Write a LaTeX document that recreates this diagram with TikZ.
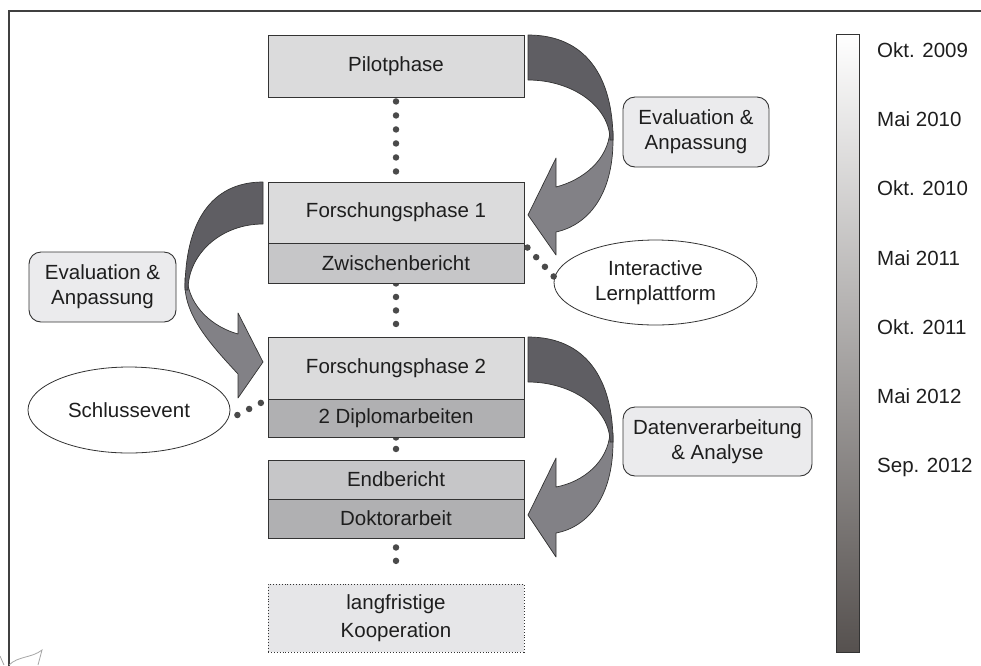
\documentclass[tikz,border=0pt]{standalone}
\usepackage{fontspec}
\setmainfont{Liberation Sans}
\usetikzlibrary{shapes.geometric,backgrounds}
\definecolor{txt}{HTML}{1E1E1E}
\definecolor{cA}{HTML}{DBDBDC}
\definecolor{cB}{HTML}{C6C6C8}
\definecolor{cC}{HTML}{B0B0B2}
\definecolor{cD}{HTML}{E6E6E8}
\definecolor{rfill}{HTML}{EBEBED}
\definecolor{adark}{HTML}{5F5E63}
\definecolor{alight}{HTML}{828186}
\definecolor{barmid}{HTML}{B3B0AD}
\definecolor{barbot}{HTML}{56514F}
\definecolor{dotc}{HTML}{4A4A4A}
\definecolor{edge}{HTML}{333333}
\begin{document}
\begin{tikzpicture}[x=1pt,y=-1pt,
  every node/.style={font=\fontsize{20.5}{25}\selectfont, text=txt},
  box/.style={draw=edge, line width=0.9pt, minimum width=256pt, inner sep=0pt},
  rbox/.style={draw=edge, line width=0.9pt, fill=rfill, rounded corners=12pt, align=center, inner sep=0pt},
  ell/.style={ellipse, draw=edge, line width=0.8pt, fill=white, inner sep=0pt, align=center},
  dotline/.style={draw=dotc, line width=6.5pt, line cap=round, dash pattern=on 0pt off #1},
  dotline/.default=14pt,
  arrdark/.style={fill=adark, draw=edge, line width=0.7pt, line join=round},
  arrlight/.style={fill=alight, draw=edge, line width=0.7pt, line join=round},
  tlabel/.style={anchor=base west, inner sep=0pt}
]
\useasboundingbox (0,0) rectangle (981,665);
% outer frame
\draw[line width=1.1pt, black!75] (9,680) -- (9,11) -- (1000,11);
% small scribble bottom-left
\draw[black!35, line width=0.8pt] (9,665) .. controls (18,656) and (32,658) .. (42,650) -- (38,665);
\draw[black!35, line width=0.8pt] (0,656) -- (4,665);

% main boxes
\node[box, fill=cA, minimum height=62pt] (pilot) at (396,66) {Pilotphase};
\node[box, fill=cA, minimum height=61pt] (fp1) at (396,212.5) {Forschungsphase 1};
\node[box, fill=cB, minimum height=40pt] (zw) at (396,263) {Zwischenbericht};
\node[box, fill=cA, minimum height=62pt] (fp2) at (396,368) {Forschungsphase 2};
\node[box, fill=cC, minimum height=38pt] (dip) at (396,418) {2 Diplomarbeiten};
\node[box, fill=cB, minimum height=39pt] (endb) at (396,479.5) {Endbericht};
\node[box, fill=cC, minimum height=39pt] (dok) at (396,518.5) {Doktorarbeit};
\node[box, fill=cD, dotted, minimum height=68pt, align=center,
      font=\fontsize{20.5}{28}\selectfont] (lang) at (396,618) {langfristige\\Kooperation};

% rounded boxes
\node[rbox, minimum width=146pt, minimum height=70pt] (ea1) at (696,132) {Evaluation \&\\Anpassung};
\node[rbox, minimum width=147pt, minimum height=70pt] (ea2) at (102.5,287) {Evaluation \&\\Anpassung};
\node[rbox, minimum width=189pt, minimum height=69pt] (dva) at (717.5,441.5) {Datenverarbeitung\\\& Analyse};

% ellipses
\node[ell, minimum width=203pt, minimum height=85pt] (ilp) at (655.5,282.5) {Interactive\\Lernplattform};
\node[ell, minimum width=202pt, minimum height=86pt] (se) at (129,410) {Schlussevent};

% vertical dotted connectors behind boxes
\begin{scope}[on background layer]
\draw[dotline, shorten <=4pt] (pilot.south) -- (fp1.north);
\draw[dotline=13.5pt] (zw.south) -- (fp2.north);
\draw[dotline=11.5pt] (dip.south) -- (endb.north);
\draw[dotline=13.4pt, shorten <=9pt, shorten >=9.5pt] (dok.south) -- (lang.north);
\end{scope}
% side dotted connectors
\draw[dotline=13pt] ([shift={(3,5)}]zw.north east) -- (ilp.177);
\draw[dotline=13.2pt] ([shift={(7,5)}]se.east) -- ([shift={(-6,4)}]dip.north west);

% curved arrow 1 (Pilotphase -> Forschungsphase 1)
\begin{scope}[shift={(528,35)}]
\draw[arrlight] (85,96) -- (85,105) .. controls (85,160) and (60,190) .. (28,197) -- (28,220) -- (0,180) -- (28,123) -- (28,152) .. controls (55,145) and (80,125) .. (82,96) -- cycle;
\draw[arrdark] (0,0) .. controls (58,0) and (85,42) .. (85,105) -- (82,105) .. controls (82,72) and (45,45) .. (0,45) -- cycle;
\end{scope}
% curved arrow 3 (Forschungsphase 2 -> Endbericht/Doktorarbeit)
\begin{scope}[shift={(528,337)}]
\draw[arrlight] (85,96) -- (85,105) .. controls (85,160) and (60,190) .. (28,196) -- (28,220) -- (0,178) -- (28,121) -- (28,150) .. controls (55,145) and (80,125) .. (82,96) -- cycle;
\draw[arrdark] (0,0) .. controls (58,0) and (85,42) .. (85,105) -- (82,105) .. controls (82,72) and (45,45) .. (0,45) -- cycle;
\end{scope}
% curved arrow 2 (left, Forschungsphase 1 -> Forschungsphase 2)
\begin{scope}[shift={(263,182)}, xscale=-1]
\draw[arrlight] (78,96) -- (78,103) .. controls (78,135) and (50,165) .. (25,192) -- (25,216) -- (0,180) -- (25,131) -- (25,152) .. controls (50,145) and (74,125) .. (76,96) -- cycle;
\draw[arrdark] (0,0) .. controls (53,0) and (78,42) .. (78,108) -- (75,108) .. controls (75,72) and (42,42) .. (0,42) -- cycle;
\end{scope}

% timeline bar
\shade[top color=white, middle color=barmid, bottom color=barbot] (836,34) rectangle (859,652);
\draw[edge, line width=0.9pt] (836,34) rectangle (859,652);
\node[tlabel] (t1) at (877,57) {Okt. 2009};
\node[tlabel] (t2) at (877,126.3) {Mai 2010};
\node[tlabel] (t3) at (877,195.6) {Okt. 2010};
\node[tlabel] (t4) at (877,265) {Mai 2011};
\node[tlabel] (t5) at (877,334.2) {Okt. 2011};
\node[tlabel] (t6) at (877,403.5) {Mai 2012};
\node[tlabel] (t7) at (877,472.8) {Sep. 2012};
\end{tikzpicture}
\end{document}
